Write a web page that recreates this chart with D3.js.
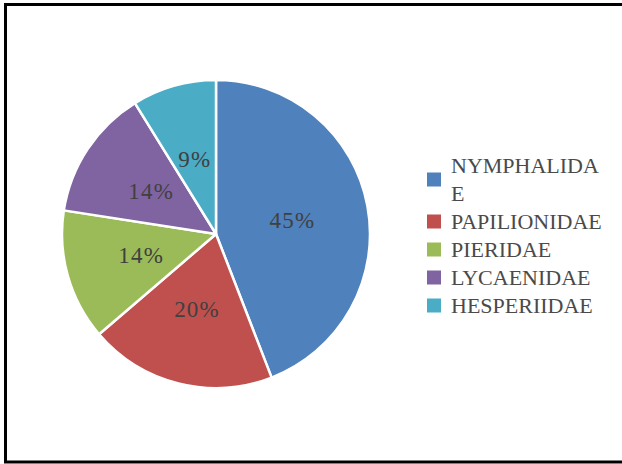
<!DOCTYPE html>
<html>
<head>
<meta charset="utf-8">
<script src="https://cdn.jsdelivr.net/npm/d3@7"></script>
<style>
  html, body { margin: 0; padding: 0; background: #fff; }
  svg { display: block; }
</style>
</head>
<body>
<svg id="chart" width="622" height="464"></svg>
<script>
// Butterfly families and their share of species (%)
const families = ["NYMPHALIDAE", "PAPILIONIDAE", "PIERIDAE", "LYCAENIDAE", "HESPERIIDAE"];
const shares = [45, 20, 14, 14, 9];
const colors = ["#4F81BD", "#C0504D", "#9BBB59", "#8064A2", "#4BACC6"];

const svg = d3.select("#chart");
const font = "'Liberation Serif', 'Times New Roman', serif";

// frame around the chart area
svg.append("rect")
  .attr("x", 5.5).attr("y", 4.5)
  .attr("width", 700).attr("height", 457.5)
  .attr("fill", "#fff")
  .attr("stroke", "#000")
  .attr("stroke-width", 3);

const data = families.map((f, i) => ({ family: f, value: shares[i] }));
const color = d3.scaleOrdinal().domain(families).range(colors);

const cx = 216, cy = 234, r = 154;
const pie = d3.pie().value(d => d.value).sort(null);
const arc = d3.arc().innerRadius(0).outerRadius(r);
const labelArc = d3.arc().innerRadius(r * 0.505).outerRadius(r * 0.505);

const g = svg.append("g").attr("transform", `translate(${cx},${cy})`);
const arcs = pie(data);

g.selectAll("path.slice")
  .data(arcs)
  .join("path")
  .attr("class", "slice")
  .attr("d", arc)
  .attr("fill", d => color(d.data.family))
  .attr("stroke", "#fff")
  .attr("stroke-width", 2.5)
  .attr("stroke-linejoin", "round");

g.selectAll("text.pct")
  .data(arcs)
  .join("text")
  .attr("class", "pct")
  .attr("transform", d => `translate(${labelArc.centroid(d)})`)
  .attr("text-anchor", "middle")
  .attr("dy", "0.35em")
  .attr("font-family", font)
  .attr("font-size", 23)
  .attr("letter-spacing", 1.2)
  .attr("fill", "#404040")
  .text(d => d.data.value + "%");

// legend, wrapping long names by character
const legendX = 427, textX = 451, maxW = 156, lineH = 28, sq = 14;
const legend = svg.append("g");
let y = 173; // baseline of first line

data.forEach(d => {
  const item = legend.append("g");
  const t = item.append("text")
    .attr("font-family", font)
    .attr("font-size", 22)
    .attr("fill", "#4a4a4a");
  // break into lines that fit maxW
  const lines = [];
  let cur = "";
  const probe = t.append("tspan").attr("x", textX).attr("y", -100);
  for (const ch of d.family) {
    probe.text(cur + ch);
    if (probe.node().getComputedTextLength() > maxW && cur.length) {
      lines.push(cur);
      cur = ch;
    } else {
      cur += ch;
    }
  }
  lines.push(cur);
  probe.remove();
  lines.forEach((ln, k) => {
    t.append("tspan").attr("x", textX).attr("y", y + k * lineH).text(ln);
  });
  const capMid = y - 7.5 + (lines.length - 1) * lineH / 2;
  item.append("rect")
    .attr("x", legendX).attr("y", capMid - sq / 2)
    .attr("width", sq).attr("height", sq)
    .attr("fill", color(d.family));
  y += lines.length * lineH;
});
</script>
</body>
</html>
